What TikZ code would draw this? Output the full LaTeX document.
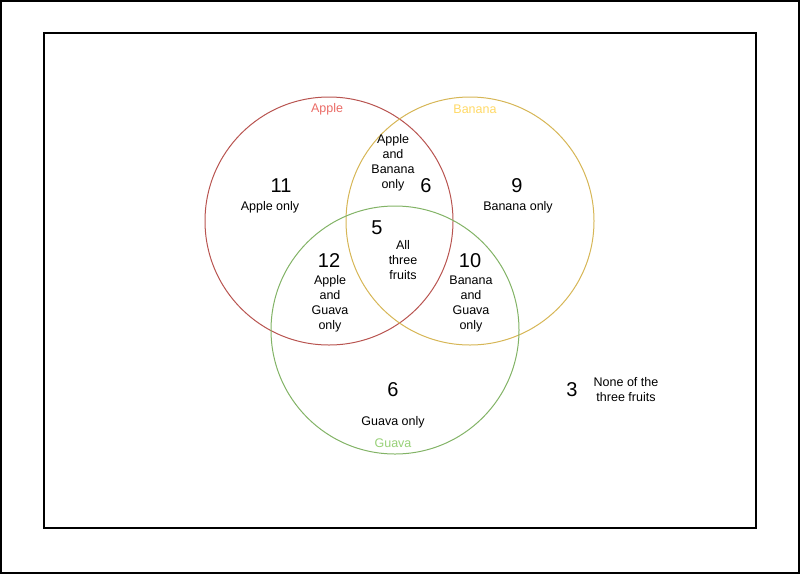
\documentclass[tikz,border=0pt]{standalone}
\usepackage{fontspec}
\setmainfont{Liberation Sans}
\definecolor{applered}{HTML}{B85450}
\definecolor{applelbl}{HTML}{EA6B66}
\definecolor{bananayel}{HTML}{D6B656}
\definecolor{bananalbl}{HTML}{FFD966}
\definecolor{guavagrn}{HTML}{82B366}
\definecolor{guavalbl}{HTML}{97D077}
\begin{document}
\begin{tikzpicture}[x=1pt, y=-1pt,
  num/.style={font=\fontsize{20}{22}\selectfont},
  lbl/.style={font=\fontsize{12.5}{15}\selectfont, align=center},
  setname/.style={font=\fontsize{12.5}{15}\selectfont}]
\useasboundingbox (0,0) rectangle (800,574);
\draw[line width=2pt] (1,1) rectangle (799,573);
\draw[line width=1.3pt] (44,33) rectangle (756,528);
% the three sets
\draw[applered, line width=1pt] (329,221) circle (124);
\draw[bananayel, line width=1pt] (470,221) circle (124);
\draw[guavagrn, line width=1pt] (395,330) circle (124);
\node[setname, text=applelbl] (appleset) at (327,109) {Apple};
\node[setname, text=bananalbl] (bananaset) at (475,109) {Banana};
\node[setname, text=guavalbl] (guavaset) at (393,443) {Guava};
% counts and labels
\node[num] (nA) at (281,186) {11};
\node[lbl] (lA) at (270,207) {Apple only};
\node[lbl] (lAB) at (393,163) {Apple\\and\\Banana\\only};
\node[num] (nAB) at (426,186) {6};
\node[num] (nB) at (517,186) {9};
\node[lbl] (lB) at (518,207) {Banana only};
\node[num] (nABG) at (377,228) {5};
\node[lbl] (lABG) at (403,260) {All\\three\\fruits};
\node[num] (nAG) at (329,261) {12};
\node[lbl] (lAG) at (330,304) {Apple\\and\\Guava\\only};
\node[num] (nBG) at (470,261) {10};
\node[lbl] (lBG) at (471,304) {Banana\\and\\Guava\\only};
\node[num] (nG) at (393,390) {6};
\node[lbl] (lG) at (393,422) {Guava only};
\node[num] (nN) at (572,390) {3};
\node[lbl] (lN) at (626,390) {None of the\\three fruits};
\end{tikzpicture}
\end{document}
